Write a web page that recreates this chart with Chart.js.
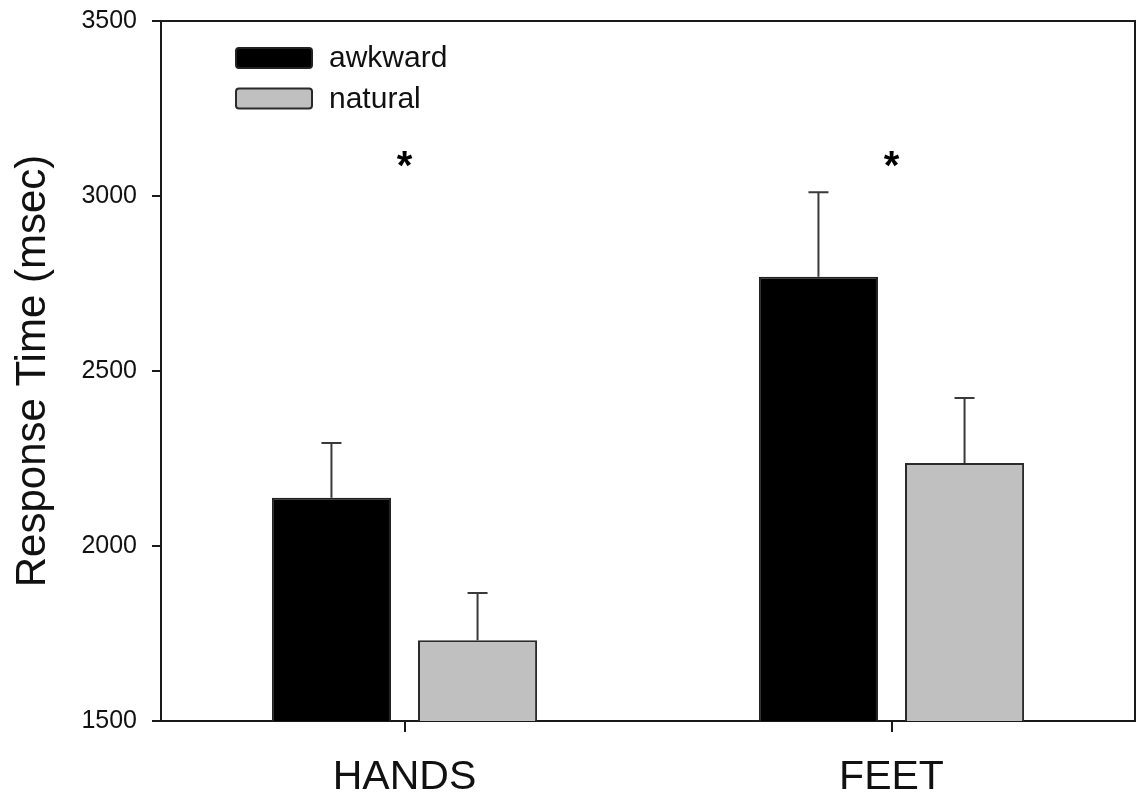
<!DOCTYPE html>
<html><head><meta charset="utf-8">
<script src="https://cdn.jsdelivr.net/npm/chart.js@4.4.1/dist/chart.umd.min.js"></script>
<style>html,body{margin:0;padding:0;background:#fff;overflow:hidden}#wrap{width:1136px;height:809px;position:relative}</style>
</head><body><div id="wrap"><canvas id="c" width="1136" height="809"></canvas></div>
<script>
const categories = ["HANDS", "FEET"];
const seriesNames = ["awkward", "natural"];
const awkwardMean = [2138, 2769];
const naturalMean = [1731, 2237];
const awkwardErr = [156, 242];
const naturalErr = [135, 186];
const significance = ["*", "*"];
const starLevel = 3100;
const yTicks = [1500, 2000, 2500, 3000, 3500];

const FONT = "'Liberation Sans', Arial, sans-serif";
const LINE = '#1a1a1a';

const errors = [awkwardErr, naturalErr];

const errorBarPlugin = {
  id: 'errorBars',
  afterDatasetsDraw(chart) {
    const ctx = chart.ctx, y = chart.scales.y;
    ctx.save();
    ctx.strokeStyle = '#3a3a3a';
    ctx.lineWidth = 2;
    chart.data.datasets.forEach((ds, i) => {
      const meta = chart.getDatasetMeta(i);
      meta.data.forEach((bar, j) => {
        const top = y.getPixelForValue(ds.data[j] + errors[i][j]);
        const base = y.getPixelForValue(ds.data[j]);
        ctx.beginPath();
        ctx.moveTo(bar.x, base);
        ctx.lineTo(bar.x, top);
        ctx.moveTo(bar.x - 10, top);
        ctx.lineTo(bar.x + 10, top);
        ctx.stroke();
      });
    });
    // significance markers (glyph centred on starLevel)
    const fs = 40;
    ctx.fillStyle = '#000';
    ctx.font = 'bold ' + fs + 'px ' + FONT;
    ctx.textAlign = 'center';
    ctx.textBaseline = 'middle';
    significance.forEach((s, j) => {
      const x = chart.scales.x.getPixelForValue(j);
      ctx.fillText(s, x, y.getPixelForValue(starLevel) + fs * 0.18);
    });
    ctx.restore();
  },
  afterDraw(chart) {
    const ctx = chart.ctx, a = chart.chartArea;
    ctx.save();
    ctx.strokeStyle = LINE;
    ctx.lineWidth = 2;
    ctx.beginPath();
    ctx.moveTo(a.left, a.top);
    ctx.lineTo(a.right, a.top);
    ctx.lineTo(a.right, a.bottom);
    ctx.stroke();
    // legend
    ctx.font = '30px ' + FONT;
    ctx.textAlign = 'left';
    ctx.textBaseline = 'middle';
    chart.data.datasets.forEach((ds, i) => {
      const bx = 236, by = 48 + i * 40.5, bw = 76, bh = 20;
      ctx.fillStyle = ds.backgroundColor;
      ctx.strokeStyle = ds.borderColor;
      ctx.lineWidth = 2;
      ctx.beginPath();
      if (ctx.roundRect) ctx.roundRect(bx, by, bw, bh, 3); else ctx.rect(bx, by, bw, bh);
      ctx.fill();
      ctx.stroke();
      ctx.fillStyle = '#111';
      ctx.fillText(ds.label, 329, by + bh / 2 + 1);
    });
    ctx.restore();
  }
};

new Chart(document.getElementById('c'), {
  type: 'bar',
  data: {
    labels: categories,
    datasets: [
      { label: seriesNames[0], data: awkwardMean, backgroundColor: '#000000', borderColor: '#222222', borderWidth: 2,
        categoryPercentage: 0.6, barPercentage: 0.815 },
      { label: seriesNames[1], data: naturalMean, backgroundColor: '#c0c0c0', borderColor: '#2a2a2a', borderWidth: 2,
        categoryPercentage: 0.6, barPercentage: 0.815 }
    ]
  },
  options: {
    responsive: false,
    animation: false,
    devicePixelRatio: 1,
    layout: { padding: { top: 21, right: 1, left: 0, bottom: 0 } },
    plugins: { legend: { display: false }, tooltip: { enabled: false } },
    scales: {
      x: {
        grid: { display: true, offset: false, drawOnChartArea: false, drawTicks: true, tickLength: 11, color: LINE, lineWidth: 2 },
        border: { display: true, color: LINE, width: 2 },
        ticks: { color: '#111', font: { family: FONT, size: 41 }, padding: 21 },
        afterFit(s) { s.height = 88; s.paddingLeft = 0; s.paddingRight = 0; }
      },
      y: {
        min: 1500, max: 3500,
        afterBuildTicks(s) { s.ticks = yTicks.map(v => ({ value: v })); },
        grid: { drawOnChartArea: false, drawTicks: true, tickLength: 9, color: LINE, lineWidth: 2 },
        border: { display: true, color: LINE, width: 2 },
        ticks: { color: '#111', font: { family: FONT, size: 25 }, padding: 15, callback: v => String(v) },
        title: { display: true, text: 'Response Time (msec)', color: '#111', font: { family: FONT, size: 42 }, padding: { top: 8, bottom: 0 } },
        afterFit(s) { s.width = 161; s.paddingTop = 0; s.paddingBottom = 0; }
      }
    }
  },
  plugins: [errorBarPlugin]
});
</script>
</body></html>
